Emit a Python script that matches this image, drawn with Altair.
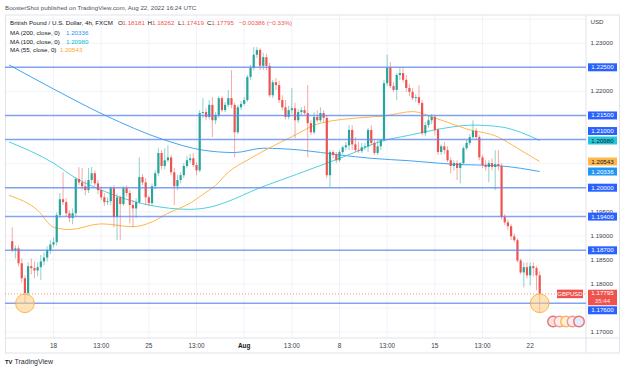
import altair as alt
import pandas as pd

# ---------------- GBP/USD 4h candles (FXCM) ----------------
# bar index: 4-hour bars counted from the left edge of the pane
bar_index = list(range(2, 169))

opens = [1.1889, 1.1870, 1.1874, 1.1843, 1.1812, 1.1781, 1.1837, 1.1833, 1.1828, 1.1835,
         1.1847, 1.1855, 1.1870, 1.1882, 1.1887, 1.1943, 1.1976, 1.1970, 1.1947, 1.1937,
         1.1947, 1.2018, 1.2011, 1.2003, 1.1995, 1.2016, 1.2030, 1.2009, 1.1995, 1.1980,
         1.1970, 1.1972, 1.1999, 1.1939, 1.1980, 1.1966, 1.1999, 1.1989, 1.1964, 1.1957,
         1.1970, 1.2022, 1.2011, 1.1980, 1.1968, 1.2003, 1.2030, 1.2072, 1.2045, 1.2057,
         1.2063, 1.2032, 1.2003, 1.2016, 1.2026, 1.2045, 1.2057, 1.2061, 1.2047, 1.2036,
         1.2155, 1.2157, 1.2147, 1.2172, 1.2140, 1.2151, 1.2186, 1.2161, 1.2172, 1.2186,
         1.2172, 1.2115, 1.2167, 1.2174, 1.2182, 1.2230, 1.2249, 1.2276, 1.2286, 1.2253,
         1.2271, 1.2253, 1.2192, 1.2219, 1.2213, 1.2182, 1.2167, 1.2147, 1.2161, 1.2165,
         1.2140, 1.2157, 1.2161, 1.2155, 1.2134, 1.2115, 1.2147, 1.2140, 1.2155, 1.2145,
         1.2026, 1.2074, 1.2068, 1.2057, 1.2074, 1.2084, 1.2088, 1.2120, 1.2090, 1.2078,
         1.2076, 1.2084, 1.2086, 1.2120, 1.2093, 1.2072, 1.2086, 1.2099, 1.2217, 1.2249,
         1.2211, 1.2203, 1.2234, 1.2238, 1.2224, 1.2207, 1.2199, 1.2186, 1.2188, 1.2176,
         1.2113, 1.2130, 1.2140, 1.2147, 1.2120, 1.2074, 1.2086, 1.2078, 1.2057, 1.2045,
         1.2051, 1.2041, 1.2051, 1.2082, 1.2093, 1.2105, 1.2118, 1.2105, 1.2063, 1.2047,
         1.2043, 1.2051, 1.2043, 1.2049, 1.2045, 1.1939, 1.1928, 1.1920, 1.1899, 1.1891,
         1.1849, 1.1824, 1.1835, 1.1818, 1.1837, 1.1833, 1.18181]

highs = [1.1918, 1.1880, 1.1880, 1.1853, 1.1818, 1.1845, 1.1853, 1.1847, 1.1845, 1.1860,
         1.1866, 1.1878, 1.1891, 1.1897, 1.1949, 1.1989, 1.2032, 1.1978, 1.1953, 1.1957,
         1.2022, 1.2043, 1.2041, 1.2016, 1.2041, 1.2043, 1.2036, 1.2016, 1.2003, 1.1989,
         1.1980, 1.2003, 1.2005, 1.1987, 1.1984, 1.2003, 1.2005, 1.1995, 1.1974, 1.1978,
         1.2063, 1.2028, 1.2020, 1.1984, 1.2009, 1.2036, 1.2082, 1.2078, 1.2082, 1.2088,
         1.2068, 1.2041, 1.2026, 1.2032, 1.2051, 1.2066, 1.2070, 1.2072, 1.2053, 1.2161,
         1.2186, 1.2165, 1.2182, 1.2188, 1.2157, 1.2190, 1.2190, 1.2178, 1.2203, 1.2244,
         1.2176, 1.2172, 1.2180, 1.2188, 1.2234, 1.2255, 1.2292, 1.2292, 1.2290, 1.2280,
         1.2278, 1.2259, 1.2224, 1.2228, 1.2222, 1.2192, 1.2182, 1.2170, 1.2207, 1.2176,
         1.2163, 1.2167, 1.2170, 1.2213, 1.2140, 1.2157, 1.2161, 1.2167, 1.2161, 1.2151,
         1.2078, 1.2078, 1.2074, 1.2078, 1.2088, 1.2095, 1.2130, 1.2130, 1.2105, 1.2095,
         1.2093, 1.2093, 1.2124, 1.2130, 1.2099, 1.2099, 1.2099, 1.2224, 1.2276, 1.2261,
         1.2219, 1.2238, 1.2249, 1.2249, 1.2234, 1.2215, 1.2207, 1.2194, 1.2213, 1.2182,
         1.2136, 1.2149, 1.2153, 1.2151, 1.2124, 1.2090, 1.2095, 1.2086, 1.2063, 1.2057,
         1.2057, 1.2053, 1.2086, 1.2099, 1.2111, 1.2140, 1.2124, 1.2109, 1.2068, 1.2057,
         1.2057, 1.2061, 1.2078, 1.2078, 1.2051, 1.1945, 1.1934, 1.1924, 1.1905, 1.1895,
         1.1853, 1.1845, 1.1845, 1.1845, 1.1845, 1.1837, 1.18262]

lows = [1.1866, 1.1853, 1.1837, 1.1803, 1.1760, 1.1776, 1.1820, 1.1812, 1.1816, 1.1808,
        1.1839, 1.1847, 1.1862, 1.1876, 1.1880, 1.1937, 1.1964, 1.1941, 1.1928, 1.1924,
        1.1941, 1.2005, 1.1995, 1.1984, 1.1989, 1.2009, 1.2003, 1.1987, 1.1974, 1.1962,
        1.1964, 1.1964, 1.1918, 1.1891, 1.1891, 1.1962, 1.1982, 1.1926, 1.1918, 1.1937,
        1.1966, 1.2005, 1.1964, 1.1962, 1.1964, 1.1997, 1.2024, 1.2038, 1.2038, 1.2053,
        1.2026, 1.1964, 1.1995, 1.2009, 1.2020, 1.2041, 1.2051, 1.2043, 1.2026, 1.2032,
        1.2145, 1.2140, 1.2142, 1.2105, 1.2132, 1.2145, 1.2157, 1.2157, 1.2167, 1.2165,
        1.2063, 1.2111, 1.2161, 1.2170, 1.2178, 1.2224, 1.2244, 1.2269, 1.2244, 1.2244,
        1.2244, 1.2188, 1.2186, 1.2203, 1.2176, 1.2161, 1.2142, 1.2142, 1.2153, 1.2103,
        1.2134, 1.2149, 1.2151, 1.2063, 1.2109, 1.2111, 1.2136, 1.2136, 1.2136, 1.2020,
        1.2001, 1.2061, 1.2051, 1.2053, 1.2070, 1.2078, 1.2078, 1.2078, 1.2074, 1.2072,
        1.2072, 1.2078, 1.2074, 1.2088, 1.2068, 1.2068, 1.2078, 1.2095, 1.2211, 1.2207,
        1.2199, 1.2182, 1.2224, 1.2219, 1.2199, 1.2190, 1.2182, 1.2178, 1.2172, 1.2109,
        1.2107, 1.2124, 1.2132, 1.2109, 1.2068, 1.2068, 1.2070, 1.2053, 1.2030, 1.2036,
        1.2016, 1.2009, 1.2047, 1.2078, 1.2088, 1.2101, 1.2099, 1.2057, 1.2041, 1.2036,
        1.2011, 1.2036, 1.1995, 1.2036, 1.1934, 1.1922, 1.1912, 1.1891, 1.1887, 1.1845,
        1.1820, 1.1793, 1.1812, 1.1797, 1.1816, 1.1787, 1.17419]

closes = [1.1870, 1.1874, 1.1843, 1.1812, 1.1781, 1.1837, 1.1833, 1.1828, 1.1835, 1.1847,
          1.1855, 1.1870, 1.1882, 1.1887, 1.1943, 1.1976, 1.1970, 1.1947, 1.1937, 1.1947,
          1.2018, 1.2011, 1.2003, 1.1995, 1.2016, 1.2030, 1.2009, 1.1995, 1.1980, 1.1970,
          1.1972, 1.1999, 1.1939, 1.1980, 1.1966, 1.1999, 1.1989, 1.1964, 1.1957, 1.1970,
          1.2022, 1.2011, 1.1980, 1.1968, 1.2003, 1.2030, 1.2072, 1.2045, 1.2057, 1.2063,
          1.2032, 1.2003, 1.2016, 1.2026, 1.2045, 1.2057, 1.2061, 1.2047, 1.2036, 1.2155,
          1.2157, 1.2147, 1.2172, 1.2140, 1.2151, 1.2186, 1.2161, 1.2172, 1.2186, 1.2172,
          1.2115, 1.2167, 1.2174, 1.2182, 1.2230, 1.2249, 1.2276, 1.2286, 1.2253, 1.2271,
          1.2253, 1.2192, 1.2219, 1.2213, 1.2182, 1.2167, 1.2147, 1.2161, 1.2165, 1.2140,
          1.2157, 1.2161, 1.2155, 1.2134, 1.2115, 1.2147, 1.2140, 1.2155, 1.2145, 1.2026,
          1.2074, 1.2068, 1.2057, 1.2074, 1.2084, 1.2088, 1.2120, 1.2090, 1.2078, 1.2076,
          1.2084, 1.2086, 1.2120, 1.2093, 1.2072, 1.2086, 1.2099, 1.2217, 1.2249, 1.2211,
          1.2203, 1.2234, 1.2238, 1.2224, 1.2207, 1.2199, 1.2186, 1.2188, 1.2176, 1.2113,
          1.2130, 1.2140, 1.2147, 1.2120, 1.2074, 1.2086, 1.2078, 1.2057, 1.2045, 1.2051,
          1.2041, 1.2051, 1.2082, 1.2093, 1.2105, 1.2118, 1.2105, 1.2063, 1.2047, 1.2043,
          1.2051, 1.2043, 1.2049, 1.2045, 1.1939, 1.1928, 1.1920, 1.1899, 1.1891, 1.1849,
          1.1824, 1.1835, 1.1818, 1.1837, 1.1833, 1.18181, 1.17795]

# ---------------- moving averages (sampled along each curve) ----------------
ma200_bars = [1, 15, 31, 50, 62, 72, 81, 93, 105, 115, 127, 140, 156, 168]
ma200_vals = [1.2255, 1.2205, 1.2151, 1.2099, 1.2078, 1.2073, 1.2082, 1.2078, 1.2068,
              1.2061, 1.2056, 1.2049, 1.2045, 1.20336]
ma100_bars = [1, 15, 22, 29, 45, 58, 62, 82, 101, 110, 116, 127, 135, 147, 156, 162, 168]
ma100_vals = [1.2095, 1.2051, 1.2020, 1.1998, 1.1964, 1.1955, 1.1957, 1.2005, 1.2051,
              1.2074, 1.2092, 1.2109, 1.2120, 1.2130, 1.2126, 1.2115, 1.20980]
ma55_bars = [1, 10, 15, 20, 30, 40, 46, 51, 58, 62, 66, 70, 77, 90, 99, 113, 119, 128,
             135, 145, 155, 161, 168]
ma55_vals = [1.1984, 1.1953, 1.1918, 1.1913, 1.1925, 1.1919, 1.1929, 1.1947, 1.1968,
             1.1986, 1.2005, 1.2032, 1.2061, 1.2106, 1.2134, 1.2146, 1.2149, 1.2158,
             1.2145, 1.2122, 1.2105, 1.2082, 1.20543]

# ---------------- drawings and axes ----------------
levels = [1.2250, 1.2150, 1.2100, 1.2000, 1.1940, 1.1870, 1.1760]
grid_prices = [1.170, 1.175, 1.180, 1.185, 1.190, 1.195, 1.200, 1.205, 1.210, 1.215,
               1.220, 1.225, 1.230, 1.235]
ytick_prices = [1.230, 1.220, 1.195, 1.190, 1.185, 1.180, 1.170]
xtick_bars = [15, 30, 45, 60, 75, 90, 105, 120, 135, 150, 165]
xtick_labels = ["18", "13:00", "25", "13:00", "Aug", "13:00", "8", "13:00", "15", "13:00", "22"]
circled_bars = [6, 168]
circled_price = 1.1760
countdown = "35:44"

UP, DOWN = "#26a69a", "#ef5350"
C200, C100, C55 = "#42a5f5", "#4dd0e1", "#ffb74d"
LEVEL = "#5b84f0"
FONT = "Liberation Sans"
INK = "#131722"
AXIS_INK = "#3a3e48"
FRAME = "#e0e3eb"

W, H = 581, 323           # chart pane
BOX_X = W + 16.5          # centre of the price-scale label boxes

xs = alt.Scale(domain=[1.3, 181.0], nice=False, zero=False)
ys = alt.Scale(domain=[1.168791, 1.235860], nice=False, zero=False)


def xq(f):
    return alt.X(f"{f}:Q", scale=xs, axis=None)


def yq(f):
    return alt.Y(f"{f}:Q", scale=ys, axis=None)


candles = pd.DataFrame({"bar": bar_index, "open": opens, "high": highs,
                        "low": lows, "close": closes})
candles["col"] = [UP if c >= o else DOWN for o, c in zip(opens, closes)]
col_enc = alt.Color("col:N", scale=None)

# grid
grid_h = alt.Chart(pd.DataFrame({"p": grid_prices})).mark_rule(
    color="#f0f3fa", strokeWidth=1).encode(y=yq("p"), x=alt.value(0), x2=alt.value(W))
grid_v = alt.Chart(pd.DataFrame({"bar": xtick_bars})).mark_rule(
    color="#f0f3fa", strokeWidth=1).encode(x=xq("bar"), y=alt.value(0), y2=alt.value(H))

# horizontal levels
level_lines = alt.Chart(pd.DataFrame({"p": levels})).mark_rule(
    color=LEVEL, strokeWidth=1.5, opacity=0.75).encode(
    y=yq("p"), x=alt.value(0), x2=alt.value(W))

# moving averages
ma_df = pd.concat([
    pd.DataFrame({"bar": ma200_bars, "v": ma200_vals, "ma": "MA200", "col": C200}),
    pd.DataFrame({"bar": ma100_bars, "v": ma100_vals, "ma": "MA100", "col": C100}),
    pd.DataFrame({"bar": ma55_bars, "v": ma55_vals, "ma": "MA55", "col": C55}),
])
ma_lines = alt.Chart(ma_df).mark_line(strokeWidth=1, interpolate="monotone", clip=True).encode(
    x=xq("bar"), y=yq("v"), color=alt.Color("col:N", scale=None), detail="ma:N")

# candles
wicks = alt.Chart(candles).mark_rule(strokeWidth=1, opacity=0.5, clip=True).encode(
    x=xq("bar"), y=yq("low"), y2="high:Q", color=col_enc)
bodies = alt.Chart(candles).mark_bar(size=2.2, clip=True).encode(
    x=xq("bar"), y=yq("open"), y2="close:Q", color=col_enc)

# last price line
last_line = alt.Chart(pd.DataFrame({"p": [closes[-1]]})).mark_rule(
    color=DOWN, strokeWidth=1, strokeDash=[1, 2], opacity=0.6).encode(
    y=yq("p"), x=alt.value(0), x2=alt.value(W))

# circled lows
circles = alt.Chart(pd.DataFrame({"bar": circled_bars, "p": [circled_price] * 2})).mark_point(
    shape="circle", filled=True, size=350, fill="#ffcc80", fillOpacity=0.55,
    stroke="#ffa726", strokeWidth=1, strokeOpacity=0.8, opacity=1).encode(
    x=xq("bar"), y=yq("p"))

# event flags at the bottom of the pane
flags = alt.Chart(pd.DataFrame({"x": [548, 554.5, 561, 567.5, 574],
                                "y": [306.5] * 5,
                                "s": ["#e57373", "#ef9a9a", "#ffb74d", "#ef9a9a", "#e57373"],
                                "f": ["#fbe3e1", "#fdeceb", "#fff1dc", "#fdeceb", "#e3ecfb"]})
                  ).mark_point(shape="circle", filled=True, size=110, strokeWidth=1.4,
                               opacity=1).encode(
    x=alt.X("x:Q", scale=None), y=alt.Y("y:Q", scale=None),
    fill=alt.Fill("f:N", scale=None), stroke=alt.Stroke("s:N", scale=None))

# price scale tick labels
ytick_df = pd.DataFrame({"p": ytick_prices, "t": [f"{v:.5f}" for v in ytick_prices]})
ytick_text = alt.Chart(ytick_df).mark_text(
    align="left", baseline="middle", fontSize=6.2, font=FONT, color=AXIS_INK).encode(
    y=yq("p"), x=alt.value(W + 4.5), text="t:N")


def price_box(rows, shift=0.0, height=8.0, width=29, x=BOX_X, text_shift=None, size=6.2):
    df = pd.DataFrame(rows, columns=["p", "t", "bg", "fg"])
    base = alt.Chart(df)
    box = base.mark_tick(orient="horizontal", size=width, thickness=height, opacity=1,
                         yOffset=shift).encode(
        y=yq("p"), x=alt.value(x), color=alt.Color("bg:N", scale=None))
    txt = base.mark_text(align="center", baseline="middle", fontSize=size, font=FONT,
                         dy=shift if text_shift is None else text_shift).encode(
        y=yq("p"), x=alt.value(x), text="t:N", color=alt.Color("fg:N", scale=None))
    return box + txt


BLUE_BOX = "#2962ff"
plain_levels = [p for p in levels if p not in (1.2100, 1.1760)]
boxes = [
    price_box([[p, f"{p:.5f}", BLUE_BOX, "#ffffff"] for p in plain_levels]),
    price_box([[1.2100, "1.21000", BLUE_BOX, "#ffffff"]], shift=-8.5),
    price_box([[ma100_vals[-1], f"{ma100_vals[-1]:.5f}", "#26c6da", INK]]),
    price_box([[ma55_vals[-1], f"{ma55_vals[-1]:.5f}", "#ffb74d", INK]]),
    price_box([[ma200_vals[-1], f"{ma200_vals[-1]:.5f}", "#2196f3", "#ffffff"]]),
    price_box([[1.1760, "1.17600", BLUE_BOX, "#ffffff"]], shift=7.0),
    price_box([[closes[-1], f"{closes[-1]:.5f}", DOWN, "#ffffff"]], shift=3.6, height=15.5,
              text_shift=-0.6),
    price_box([[closes[-1], countdown, DOWN, "#fde0df"]], shift=7.4, height=0.01,
              text_shift=7.4),
    price_box([[closes[-1], "GBPUSD", DOWN, "#ffffff"]], height=8.5, width=26, x=W - 16,
              size=6),
]

# x axis labels ("Aug" set in bold)
xlab_df = pd.DataFrame({"bar": xtick_bars, "t": xtick_labels})
xlabels_plain = alt.Chart(xlab_df[xlab_df.t != "Aug"]).mark_text(
    baseline="middle", align="center", fontSize=6.4, font=FONT, color=AXIS_INK).encode(
    x=xq("bar"), y=alt.value(H + 7.7), text="t:N")
xlabels_bold = alt.Chart(xlab_df[xlab_df.t == "Aug"]).mark_text(
    baseline="middle", align="center", fontSize=6.4, font=FONT, color=INK,
    fontWeight="bold").encode(
    x=xq("bar"), y=alt.value(H + 7.7), text="t:N")

# frame lines
frame_df = pd.DataFrame({
    "x": [0.5, W, W + 33.5, 0, 0, 0],
    "x2": [0.5, W, W + 33.5, W + 33.5, W + 33.5, W + 33.5],
    "y": [0, 0, 0, 0, H, H + 15],
    "y2": [H + 15, H + 15, H + 15, 0, H, H + 15],
})
frame = alt.Chart(frame_df).mark_rule(color=FRAME, strokeWidth=1).encode(
    x=alt.X("x:Q", scale=None), x2="x2:Q", y=alt.Y("y:Q", scale=None), y2="y2:Q")

# header, legend and footer text
o, h, l, c = opens[-1], highs[-1], lows[-1], closes[-1]
chg = c - closes[-2]
pct = chg / closes[-2] * 100
minus = "\u2212"
LY = 7.7
legend_rows = [
    (0, -7, "BoosterShot published on TradingView.com, Aug 22, 2022 16:24 UTC", "#50535e"),
    (5, LY, "British Pound / U.S. Dollar, 4h, FXCM", INK),
    (113, LY, "O", INK), (117.5, LY, f"{o:.5f}", DOWN),
    (142.5, LY, "H", INK), (147, LY, f"{h:.5f}", DOWN),
    (173, LY, "L", INK), (176.5, LY, f"{l:.5f}", DOWN),
    (202, LY, "C", INK), (206.5, LY, f"{c:.5f}", DOWN),
    (234, LY, f"{minus}{abs(chg):.5f} ({minus}{abs(pct):.2f}%)", DOWN),
    (5, 17.7, "MA (200, close, 0)", INK), (61, 17.7, f"{ma200_vals[-1]:.5f}", "#2196f3"),
    (5, 26.5, "MA (100, close, 0)", INK), (61, 26.5, f"{ma100_vals[-1]:.5f}", "#00bcd4"),
    (5, 35.3, "MA (55, close, 0)", INK), (55, 35.3, f"{ma55_vals[-1]:.5f}", "#ffa726"),
    (W + 4.5, 6.7, "USD", AXIS_INK),
]
legend_df = pd.DataFrame(legend_rows, columns=["x", "y", "t", "c"])
legend_text = alt.Chart(legend_df).mark_text(
    align="left", baseline="middle", fontSize=6.2, font=FONT).encode(
    x=alt.X("x:Q", scale=None), y=alt.Y("y:Q", scale=None), text="t:N",
    color=alt.Color("c:N", scale=None))

footer = alt.Chart(pd.DataFrame({"x": [9.5], "y": [H + 23.7], "t": ["TradingView"]})).mark_text(
    align="left", baseline="middle", fontSize=7, font=FONT, color="#2a2e39").encode(
    x=alt.X("x:Q", scale=None), y=alt.Y("y:Q", scale=None), text="t:N")
logo = alt.Chart(pd.DataFrame({"x": [0], "y": [H + 23.7], "t": ["TV"]})).mark_text(
    align="left", baseline="middle", fontSize=5.8, font=FONT, fontWeight="bold",
    color=INK).encode(x=alt.X("x:Q", scale=None), y=alt.Y("y:Q", scale=None), text="t:N")

chart = alt.layer(
    grid_h, grid_v, frame, ma_lines, wicks, bodies, level_lines, last_line, circles, flags,
    ytick_text, *boxes, xlabels_plain, xlabels_bold, legend_text, footer, logo,
).properties(
    width=W, height=H, autosize="none",
    padding={"left": 5, "top": 15, "right": 39, "bottom": 34},
    background="#ffffff",
).configure_view(stroke=None)

chart.save("out.html", embed_options={"renderer": "svg", "actions": False})
